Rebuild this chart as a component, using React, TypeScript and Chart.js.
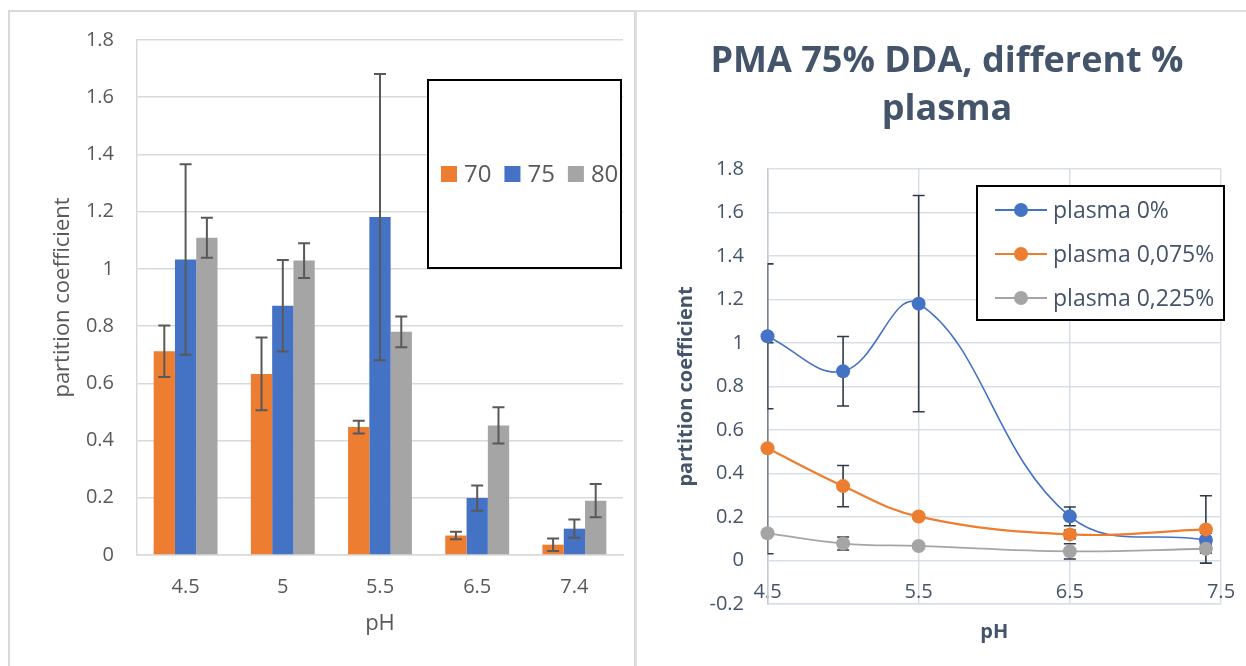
import { useEffect, useRef } from "react";
import { Chart, registerables } from "chart.js";

Chart.register(...registerables);

const FONT = "'Open Sans', 'Noto Sans', sans-serif";

// Left panel: partition coefficient by pH for three DDA levels
const phCategories = ["4.5", "5", "5.5", "6.5", "7.4"];
const ddaLabels = ["70", "75", "80"];
const dda70 = [0.712, 0.633, 0.447, 0.068, 0.036];
const dda70Err = [0.09, 0.127, 0.022, 0.013, 0.022];
const dda75 = [1.033, 0.871, 1.181, 0.199, 0.092];
const dda75Err = [0.333, 0.16, 0.5, 0.044, 0.032];
const dda80 = [1.109, 1.029, 0.78, 0.453, 0.19];
const dda80Err = [0.07, 0.061, 0.054, 0.063, 0.058];
const barYTicks = [0, 0.2, 0.4, 0.6, 0.8, 1, 1.2, 1.4, 1.6, 1.8];

// Right panel: PMA 75% DDA with different plasma content
const phValues = [4.5, 5, 5.5, 6.5, 7.4];
const plasmaLabels = ["plasma 0%", "plasma 0,075%", "plasma 0,225%"];
const plasma0 = [1.031, 0.87, 1.181, 0.203, 0.094];
const plasma0Err = [0.333, 0.16, 0.497, 0.043, 0.032];
const plasma075 = [0.516, 0.342, 0.202, 0.12, 0.143];
const plasma075Err = [0.485, 0.095, 0.01, 0.02, 0.155];
const plasma225 = [0.125, 0.078, 0.067, 0.042, 0.054];
const plasma225Err = [0.01, 0.03, 0.01, 0.035, 0.02];
const lineYTicks = [-0.2, 0, 0.2, 0.4, 0.6, 0.8, 1, 1.2, 1.4, 1.6, 1.8];
const lineXTicks = [4.5, 5.5, 6.5, 7.5];
const lineTitle = ["PMA 75% DDA, different %", "plasma"];

const ORANGE = "#ED7D31";
const BLUE = "#4472C4";
const GRAY = "#A5A5A5";

type ErrOpts = { color: string; width: number; cap: number; clip: boolean };

function drawErrorBars(chart: any, o: ErrOpts) {
  const { ctx, chartArea } = chart;
  const yScale = chart.scales.y;
  ctx.save();
  if (o.clip) {
    ctx.beginPath();
    ctx.rect(chartArea.left, chartArea.top, chartArea.right - chartArea.left, chartArea.bottom - chartArea.top);
    ctx.clip();
  }
  ctx.strokeStyle = o.color;
  ctx.lineWidth = o.width;
  chart.data.datasets.forEach((ds: any, i: number) => {
    const errs: number[] | undefined = ds.errors;
    if (!errs) return;
    const meta = chart.getDatasetMeta(i);
    meta.data.forEach((el: any, j: number) => {
      const p = meta.controller.getParsed(j);
      const x = el.x;
      const top = yScale.getPixelForValue(p.y + errs[j]);
      const bot = yScale.getPixelForValue(p.y - errs[j]);
      ctx.beginPath();
      ctx.moveTo(x, top);
      ctx.lineTo(x, bot);
      ctx.moveTo(x - o.cap, top);
      ctx.lineTo(x + o.cap, top);
      ctx.moveTo(x - o.cap, bot);
      ctx.lineTo(x + o.cap, bot);
      ctx.stroke();
    });
  });
  ctx.restore();
}

const barErrorPlugin = {
  id: "barErrors",
  afterDatasetsDraw(chart: any) {
    drawErrorBars(chart, { color: "#595959", width: 2, cap: 6, clip: false });
  },
};

const lineErrorPlugin = {
  id: "lineErrors",
  beforeDatasetsDraw(chart: any) {
    drawErrorBars(chart, { color: "#2E3A4B", width: 1.6, cap: 6, clip: true });
  },
};

// Boxed horizontal legend placed inside the plot, upper right
const barLegendPlugin = {
  id: "barLegend",
  afterDraw(chart: any) {
    const { ctx, chartArea } = chart;
    const left = chartArea.right - 195;
    const right = chartArea.right - 2;
    const top = chartArea.top + 40;
    const bottom = chartArea.top + 228;
    ctx.save();
    ctx.fillStyle = "#ffffff";
    ctx.fillRect(left, top, right - left, bottom - top);
    ctx.strokeStyle = "#000000";
    ctx.lineWidth = 2;
    ctx.strokeRect(left, top, right - left, bottom - top);
    ctx.font = `24px ${FONT}`;
    ctx.textBaseline = "middle";
    ctx.textAlign = "left";
    const cy = chartArea.top + 134;
    let x = left + 13;
    chart.data.datasets.forEach((ds: any) => {
      ctx.fillStyle = ds.backgroundColor;
      ctx.fillRect(x, cy - 8, 16, 16);
      x += 23;
      ctx.fillStyle = "#595959";
      ctx.fillText(ds.label, x, cy + 1);
      x += ctx.measureText(ds.label).width + 13;
    });
    ctx.restore();
  },
};

// Boxed vertical legend with line + marker samples
const lineLegendPlugin = {
  id: "lineLegend",
  afterDraw(chart: any) {
    const { ctx, chartArea } = chart;
    const left = chartArea.left + 209.5;
    const right = chartArea.right + 3;
    const top = chartArea.top + 17;
    const bottom = chartArea.top + 151;
    ctx.save();
    ctx.fillStyle = "#ffffff";
    ctx.fillRect(left, top, right - left, bottom - top);
    ctx.strokeStyle = "#000000";
    ctx.lineWidth = 2;
    ctx.strokeRect(left, top, right - left, bottom - top);
    ctx.font = `23px ${FONT}`;
    ctx.textBaseline = "middle";
    ctx.textAlign = "left";
    chart.data.datasets.forEach((ds: any, i: number) => {
      const cy = top + 24 + i * 44;
      ctx.strokeStyle = ds.borderColor;
      ctx.lineWidth = 1.8;
      ctx.beginPath();
      ctx.moveTo(left + 18, cy);
      ctx.lineTo(left + 70, cy);
      ctx.stroke();
      ctx.fillStyle = ds.borderColor;
      ctx.beginPath();
      ctx.arc(left + 44, cy, 7, 0, Math.PI * 2);
      ctx.fill();
      ctx.fillStyle = "#44546A";
      ctx.fillText(ds.label, left + 76, cy + 1);
    });
    ctx.restore();
  },
};

export default function App() {
  const barRef = useRef<HTMLCanvasElement>(null);
  const lineRef = useRef<HTMLCanvasElement>(null);

  useEffect(() => {
    const barChart = new Chart(barRef.current as HTMLCanvasElement, {
      type: "bar",
      data: {
        labels: phCategories,
        datasets: [
          { label: ddaLabels[0], data: dda70, errors: dda70Err, backgroundColor: ORANGE } as any,
          { label: ddaLabels[1], data: dda75, errors: dda75Err, backgroundColor: BLUE } as any,
          { label: ddaLabels[2], data: dda80, errors: dda80Err, backgroundColor: GRAY } as any,
        ],
      },
      options: {
        animation: false,
        responsive: true,
        maintainAspectRatio: false,
        events: [],
        layout: { padding: { top: 28, right: 10, left: 0, bottom: 0 } },
        datasets: { bar: { categoryPercentage: 0.657, barPercentage: 1, borderWidth: 0 } },
        plugins: { legend: { display: false }, tooltip: { enabled: false } },
        scales: {
          x: {
            grid: { display: false, drawTicks: false },
            border: { display: true, color: "#d9d9d9", width: 1.5 },
            ticks: { color: "#595959", padding: 20, font: { family: FONT, size: 20 } },
            title: {
              display: true,
              text: "pH",
              color: "#595959",
              font: { family: FONT, size: 22, lineHeight: 1.2 },
              padding: { top: 0, bottom: 28.8 },
            },
            afterFit: (s: any) => {
              s.height = 111;
            },
          },
          y: {
            min: 0,
            max: 1.8,
            afterBuildTicks: (s: any) => {
              s.ticks = barYTicks.map((v) => ({ value: v }));
            },
            grid: { color: "#d9d9d9", lineWidth: 1.5, drawTicks: false },
            border: { display: true, color: "#d9d9d9", width: 1.5 },
            ticks: {
              color: "#595959",
              padding: 23,
              font: { family: FONT, size: 20 },
              callback: (v: any) => String(v),
            },
            title: {
              display: true,
              text: "partition coefficient",
              color: "#595959",
              font: { family: FONT, size: 22, lineHeight: 1.2 },
              padding: { top: 39.8, bottom: 0 },
            },
            afterFit: (s: any) => {
              s.width = 127;
              s.paddingTop = 12;
              s.paddingBottom = 12;
            },
          },
        },
      } as any,
      plugins: [barErrorPlugin, barLegendPlugin],
    });

    const toPoints = (ys: number[]) => phValues.map((x, i) => ({ x, y: ys[i] }));
    const lineDs = (label: string, ys: number[], errs: number[], color: string, width: number, order: number) =>
      ({
        label,
        data: toPoints(ys),
        errors: errs,
        borderColor: color,
        backgroundColor: color,
        pointBackgroundColor: color,
        pointBorderColor: color,
        pointBorderWidth: 0,
        pointRadius: 7,
        borderWidth: width,
        tension: 0.4,
        clip: false,
        order,
      }) as any;

    const lineChart = new Chart(lineRef.current as HTMLCanvasElement, {
      type: "line",
      data: {
        datasets: [
          lineDs(plasmaLabels[0], plasma0, plasma0Err, BLUE, 1.6, 2),
          lineDs(plasmaLabels[1], plasma075, plasma075Err, ORANGE, 2.2, 1),
          lineDs(plasmaLabels[2], plasma225, plasma225Err, GRAY, 1.8, 0),
        ],
      },
      options: {
        animation: false,
        responsive: true,
        maintainAspectRatio: false,
        events: [],
        layout: { padding: { top: 0, right: 25, left: 35, bottom: 0 } },
        plugins: {
          legend: { display: false },
          tooltip: { enabled: false },
          title: {
            display: true,
            text: lineTitle,
            color: "#44546A",
            font: { family: FONT, size: 36, weight: "bold", lineHeight: 1.3333 },
            padding: { top: 26, bottom: 35 },
          },
        },
        scales: {
          x: {
            type: "linear",
            position: "bottom",
            min: 4.5,
            max: 7.5,
            afterBuildTicks: (s: any) => {
              s.ticks = lineXTicks.map((v) => ({ value: v }));
            },
            grid: { color: "#d9dfe7", lineWidth: 1.5, drawTicks: false },
            border: { display: true, color: "#d9dfe7", width: 1.5 },
            ticks: {
              mirror: true,
              padding: 0,
              color: "#44546A",
              font: { family: FONT, size: 20 },
              callback: (v: any) => String(v),
            },
            title: {
              display: true,
              text: "pH",
              color: "#44546A",
              font: { family: FONT, size: 20, weight: "bold", lineHeight: 1.2 },
              padding: { top: 0, bottom: 22 },
            },
            afterFit: (s: any) => {
              s.height = 62;
            },
          },
          y: {
            min: -0.2,
            max: 1.8,
            afterBuildTicks: (s: any) => {
              s.ticks = lineYTicks.map((v) => ({ value: v }));
            },
            grid: { color: "#d9dfe7", lineWidth: 1.5, drawTicks: false },
            border: { display: true, color: "#c3cbd6", width: 1.5 },
            ticks: {
              color: "#44546A",
              padding: 23.5,
              font: { family: FONT, size: 20 },
              callback: (v: any) => String(v),
            },
            title: {
              display: true,
              text: "partition coefficient",
              color: "#44546A",
              font: { family: FONT, size: 20, weight: "bold", lineHeight: 1.2 },
              padding: { top: 1.6, bottom: 0 },
            },
            afterFit: (s: any) => {
              s.width = 94.5;
            },
          },
        },
      } as any,
      plugins: [lineErrorPlugin, lineLegendPlugin],
    });

    return () => {
      barChart.destroy();
      lineChart.destroy();
    };
  }, []);

  return (
    <div
      style={{
        position: "fixed",
        left: 0,
        top: 0,
        width: 1246,
        height: 666,
        background: "#ffffff",
        overflow: "hidden",
      }}
    >
      <div
        style={{
          position: "absolute",
          left: 8,
          top: 10,
          width: 624,
          height: 700,
          border: "2px solid #d9d9d9",
        }}
      />
      <div
        style={{
          position: "absolute",
          left: 635,
          top: 10,
          width: 700,
          height: 700,
          border: "2px solid #dcdfe3",
        }}
      />
      <div style={{ position: "absolute", left: 10, top: 12, width: 623, height: 654 }}>
        <canvas ref={barRef} />
      </div>
      <div style={{ position: "absolute", left: 638, top: 12, width: 608, height: 654 }}>
        <canvas ref={lineRef} />
      </div>
    </div>
  );
}
